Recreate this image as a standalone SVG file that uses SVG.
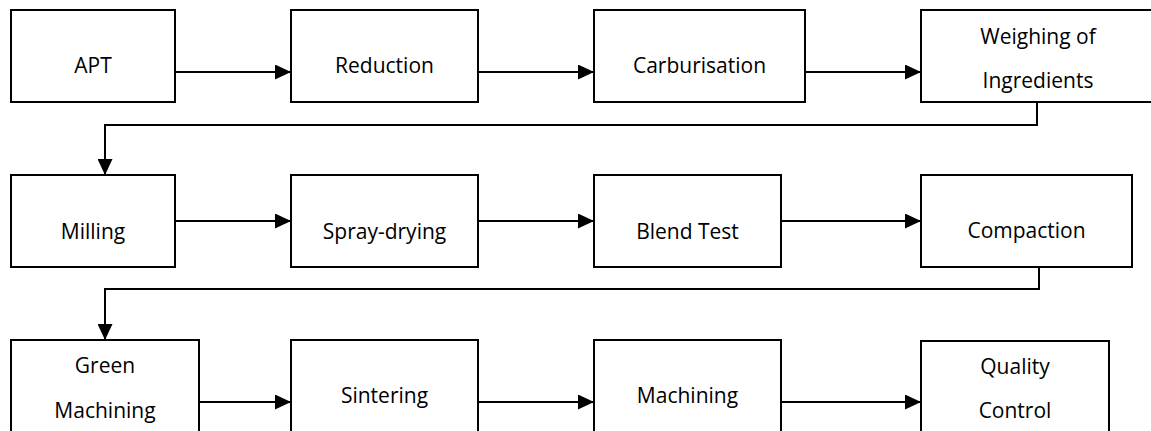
<svg xmlns="http://www.w3.org/2000/svg" width="1151" height="431" viewBox="0 0 1151 431">
<defs>
<style>
.box{fill:#fff;stroke:#000;stroke-width:2}
.lbl{font-family:"Open Sans","Liberation Sans",sans-serif;font-size:21px;fill:#000;text-anchor:middle}
.con{fill:none;stroke:#000;stroke-width:2}
</style>
<marker id="ah" markerUnits="userSpaceOnUse" markerWidth="16" markerHeight="15" refX="16" refY="7.5" orient="auto">
<path d="M0,0 L16,7.5 L0,15 z" fill="#000"/>
</marker>
</defs>
<rect width="1151" height="431" fill="#fff"/>
<g id="connectors">
<line class="con" x1="175" y1="72" x2="291" y2="72" marker-end="url(#ah)"/>
<line class="con" x1="478" y1="72" x2="594" y2="72" marker-end="url(#ah)"/>
<line class="con" x1="805" y1="72" x2="921" y2="72" marker-end="url(#ah)"/>
<polyline class="con" points="1037,102 1037,125 105,125 105,175" marker-end="url(#ah)"/>
<line class="con" x1="175" y1="221" x2="291" y2="221" marker-end="url(#ah)"/>
<line class="con" x1="478" y1="221" x2="594" y2="221" marker-end="url(#ah)"/>
<line class="con" x1="781" y1="221" x2="921" y2="221" marker-end="url(#ah)"/>
<polyline class="con" points="1039,267 1039,289 105,289 105,340" marker-end="url(#ah)"/>
<line class="con" x1="199" y1="402" x2="291" y2="402" marker-end="url(#ah)"/>
<line class="con" x1="478" y1="402" x2="594" y2="402" marker-end="url(#ah)"/>
<line class="con" x1="781" y1="402" x2="921" y2="402" marker-end="url(#ah)"/>
</g>
<g id="apt"><rect class="box" x="11" y="10" width="164" height="92"/><text class="lbl" x="93" y="73">APT</text></g>
<g id="reduction"><rect class="box" x="291" y="10" width="187" height="92"/><text class="lbl" x="384.5" y="73">Reduction</text></g>
<g id="carburisation"><rect class="box" x="594" y="10" width="211" height="92"/><text class="lbl" x="699.5" y="73">Carburisation</text></g>
<g id="weighing"><rect class="box" x="921" y="10" width="234" height="92"/><text class="lbl" x="1038" y="44">Weighing of</text><text class="lbl" x="1038" y="88">Ingredients</text></g>
<g id="milling"><rect class="box" x="11" y="175" width="164" height="92"/><text class="lbl" x="93" y="239">Milling</text></g>
<g id="spray-drying"><rect class="box" x="291" y="175" width="187" height="92"/><text class="lbl" x="384.5" y="239">Spray-drying</text></g>
<g id="blend-test"><rect class="box" x="594" y="175" width="187" height="92"/><text class="lbl" x="687.5" y="239">Blend Test</text></g>
<g id="compaction"><rect class="box" x="921" y="175" width="211" height="92"/><text class="lbl" x="1026.5" y="238">Compaction</text></g>
<g id="green-machining"><rect class="box" x="11" y="340" width="188" height="100"/><text class="lbl" x="105" y="373">Green</text><text class="lbl" x="105" y="418">Machining</text></g>
<g id="sintering"><rect class="box" x="291" y="340" width="187" height="100"/><text class="lbl" x="384.5" y="403">Sintering</text></g>
<g id="machining"><rect class="box" x="594" y="340" width="187" height="100"/><text class="lbl" x="687.5" y="403">Machining</text></g>
<g id="quality-control"><rect class="box" x="921" y="341" width="188" height="100"/><text class="lbl" x="1015" y="374">Quality</text><text class="lbl" x="1015" y="418">Control</text></g>
</svg>
